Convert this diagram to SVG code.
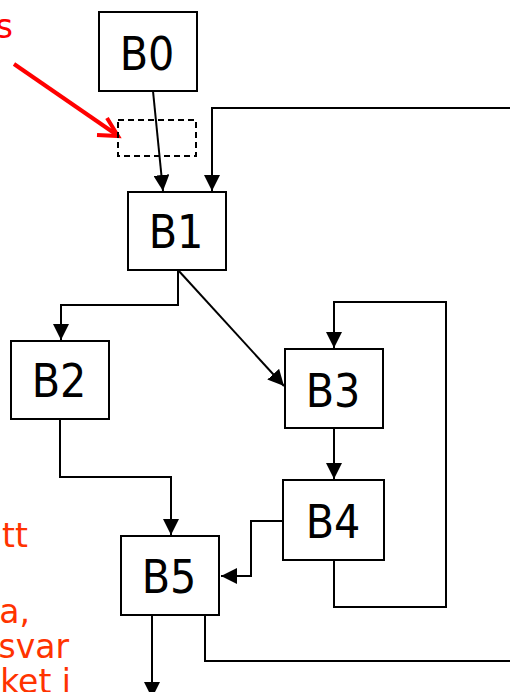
<svg xmlns="http://www.w3.org/2000/svg" width="510" height="692" viewBox="0 0 510 692">
  <style>
    .box { fill: #ffffff; stroke: #000000; stroke-width: 2; }
    .lbl { font-family: "DejaVu Sans Condensed", "DejaVu Sans", sans-serif; font-size: 46px; fill: #000000; text-anchor: middle; }
    .edge { fill: none; stroke: #000000; stroke-width: 2; marker-end: url(#tri); }
    .plain { fill: none; stroke: #000000; stroke-width: 2; }
    .note { font-family: "DejaVu Sans", sans-serif; font-size: 33px; text-anchor: end; }
  </style>
  <defs>
    <marker id="tri" markerUnits="userSpaceOnUse" markerWidth="16" markerHeight="16" viewBox="0 0 16 16" refX="16" refY="8" orient="auto">
      <path d="M0,0 L16,8 L0,16 z" fill="#000000"/>
    </marker>
  </defs>

  <!-- annotation fragments -->
  <text class="note" x="13" y="38" fill="#ff0000">s</text>
  <g fill="#ff3300">
    <text class="note" x="28" y="547">tt</text>
    <text class="note" x="30" y="623">a,</text>
    <text class="note" x="69" y="658">svar</text>
    <text class="note" x="71" y="693">ket i</text>
  </g>

  <!-- red pointer to the inserted block -->
  <g fill="none" stroke="#ff0000" stroke-width="4" stroke-linejoin="miter">
    <line x1="14" y1="64" x2="117" y2="135"/>
    <polyline points="107,118 118,136 97,135"/>
  </g>

  <!-- placeholder block -->
  <rect x="118" y="120" width="78" height="36" fill="none" stroke="#000000" stroke-width="2" stroke-dasharray="6,4"/>

  <!-- connectors -->
  <g id="connectors">
    <polyline class="edge" points="153,91 163,191"/>
    <polyline class="edge" points="512,108 212,108 212,191"/>
    <polyline class="edge" points="178,270 178,305 61,305 61,340"/>
    <polyline class="edge" points="178,270 284,386"/>
    <polyline class="edge" points="334,560 334,607 446,607 446,302 334,302 334,348"/>
    <polyline class="edge" points="334,428 334,479"/>
    <polyline class="edge" points="283,521 251,521 251,576 221,576"/>
    <polyline class="edge" points="60,419 60,477 171,477 171,535"/>
    <polyline class="edge" points="152,615 152,698"/>
    <polyline class="plain" points="205,615 205,661 512,661"/>
  </g>

  <!-- basic blocks -->
  <g id="B0">
    <rect class="box" x="99" y="12" width="98" height="79"/>
    <text class="lbl" x="147" y="70">B0</text>
  </g>
  <g id="B1">
    <rect class="box" x="128" y="192" width="98" height="78"/>
    <text class="lbl" x="176" y="248">B1</text>
  </g>
  <g id="B2">
    <rect class="box" x="11" y="341" width="98" height="78"/>
    <text class="lbl" x="59" y="397">B2</text>
  </g>
  <g id="B3">
    <rect class="box" x="285" y="349" width="98" height="79"/>
    <text class="lbl" x="333" y="407">B3</text>
  </g>
  <g id="B4">
    <rect class="box" x="283" y="480" width="101" height="80"/>
    <text class="lbl" x="333" y="538">B4</text>
  </g>
  <g id="B5">
    <rect class="box" x="121" y="536" width="98" height="79"/>
    <text class="lbl" x="169" y="593">B5</text>
  </g>
</svg>
